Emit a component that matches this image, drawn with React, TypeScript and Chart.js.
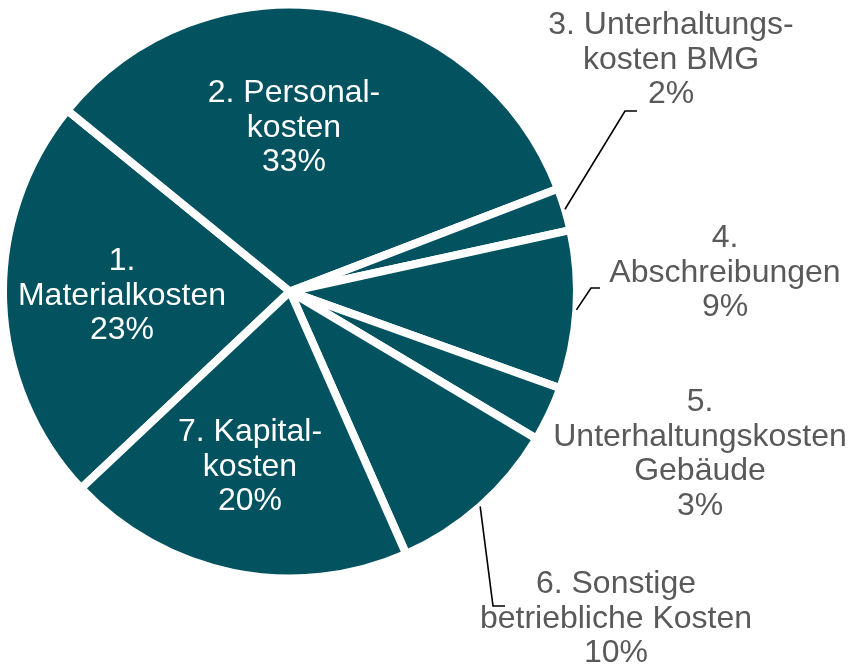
import React, { useEffect, useRef } from "react";
import { Chart, registerables } from "chart.js";

Chart.register(...registerables);

// ---- data ----
const CATEGORIES = [
  "1. Materialkosten",
  "2. Personalkosten",
  "3. Unterhaltungskosten BMG",
  "4. Abschreibungen",
  "5. Unterhaltungskosten Gebäude",
  "6. Sonstige betriebliche Kosten",
  "7. Kapitalkosten",
];
const LABEL_LINES = [
  ["1.", "Materialkosten"],
  ["2. Personal-", "kosten"],
  ["3. Unterhaltungs-", "kosten BMG"],
  ["4.", "Abschreibungen"],
  ["5.", "Unterhaltungskosten", "Gebäude"],
  ["6. Sonstige", "betriebliche Kosten"],
  ["7. Kapital-", "kosten"],
];
const VALUES = [22.9, 33.3, 2.4, 8.9, 3.1, 9.8, 19.6];

// ---- styles / layout ----
const SLICE_COLOR = "#03525F";
const INSIDE_TEXT = "#FFFFFF";
const OUTSIDE_TEXT = "#595959";
const FONT = '32px "Liberation Sans", Arial, sans-serif';
const LINE_HEIGHT = 34.7;
// x = centre of text block, y = first baseline; leader = elbow points
const LABEL_LAYOUT: { x: number; y: number; color: string; leader?: number[][] }[] = [
  { x: 122, y: 270, color: INSIDE_TEXT },
  { x: 294, y: 102, color: INSIDE_TEXT },
  { x: 671, y: 34, color: OUTSIDE_TEXT, leader: [[625, 111], [637, 111]] },
  { x: 725, y: 247, color: OUTSIDE_TEXT, leader: [[591, 288], [600, 288]] },
  { x: 700, y: 411, color: OUTSIDE_TEXT },
  { x: 616, y: 593, color: OUTSIDE_TEXT, leader: [[493, 606], [505, 606]] },
  { x: 250, y: 441, color: INSIDE_TEXT },
];

const labelPlugin = {
  id: "sliceLabels",
  afterDatasetsDraw(chart: any) {
    const ctx = chart.ctx as CanvasRenderingContext2D;
    const meta = chart.getDatasetMeta(0);
    const total = VALUES.reduce((a, b) => a + b, 0);
    ctx.save();
    ctx.font = FONT;
    ctx.textAlign = "center";
    ctx.textBaseline = "alphabetic";
    meta.data.forEach((arc: any, i: number) => {
      const { x, y, startAngle, endAngle, outerRadius } = arc.getProps(
        ["x", "y", "startAngle", "endAngle", "outerRadius"],
        true
      );
      const lay = LABEL_LAYOUT[i];
      const lines = [...LABEL_LINES[i], Math.round((VALUES[i] / total) * 100) + "%"];
      ctx.fillStyle = lay.color;
      lines.forEach((t, k) => ctx.fillText(t, lay.x, lay.y + k * LINE_HEIGHT));
      if (lay.leader) {
        const mid = (startAngle + endAngle) / 2;
        ctx.beginPath();
        ctx.strokeStyle = "#000000";
        ctx.lineWidth = 1.6;
        ctx.moveTo(x + Math.cos(mid) * outerRadius, y + Math.sin(mid) * outerRadius);
        lay.leader.forEach((p) => ctx.lineTo(p[0], p[1]));
        ctx.stroke();
      }
    });
    ctx.restore();
  },
};

export default function App() {
  const ref = useRef<HTMLCanvasElement | null>(null);
  useEffect(() => {
    if (!ref.current) return;
    const chart = new Chart(ref.current, {
      type: "pie",
      data: {
        labels: CATEGORIES,
        datasets: [
          {
            data: VALUES,
            backgroundColor: SLICE_COLOR,
            borderColor: "#FFFFFF",
            borderWidth: 8,
          },
        ],
      },
      options: {
        responsive: false,
        animation: false,
        devicePixelRatio: 1,
        rotation: 226.7,
        radius: 287,
        layout: { padding: { left: 0, top: 0, right: 274, bottom: 88 } },
        plugins: {
          legend: { display: false },
          tooltip: { enabled: false },
        },
      },
      plugins: [labelPlugin],
    });
    return () => chart.destroy();
  }, []);
  return (
    <div style={{ position: "fixed", left: 0, top: 0, width: 854, height: 671, background: "#fff" }}>
      <canvas ref={ref} width={854} height={671} style={{ display: "block" }} />
    </div>
  );
}
